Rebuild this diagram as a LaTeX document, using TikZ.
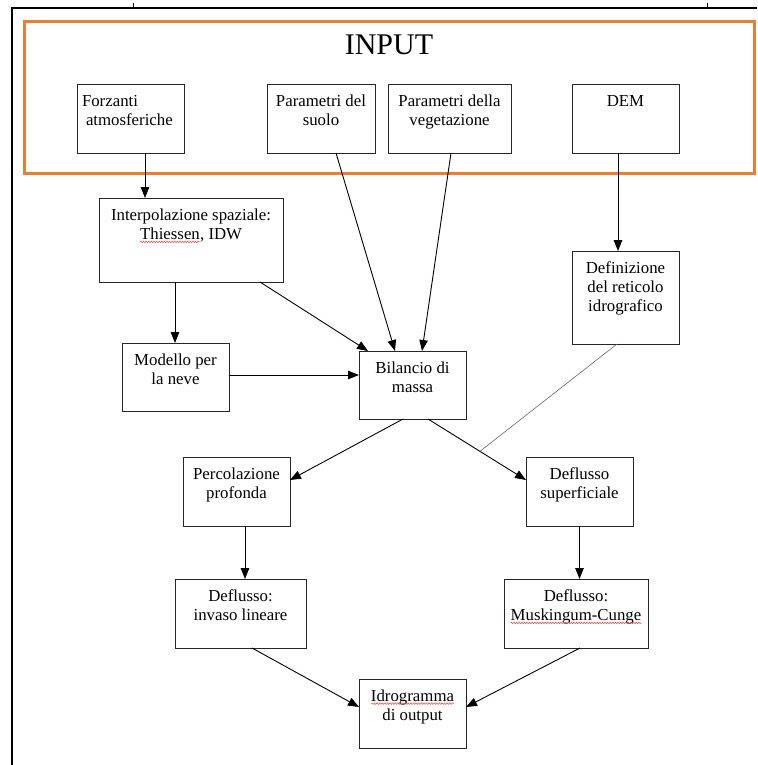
\documentclass[tikz,border=0pt]{standalone}
\usepackage{fontspec}
\setmainfont{Liberation Serif}
\usetikzlibrary{arrows.meta,calc,decorations.pathmorphing}
\definecolor{inorange}{RGB}{237,125,49}
\newcommand\bt[3]{\parbox[c][#2pt][t]{#1pt}{\centering\rule{0pt}{22pt}#3}}
\newcommand\squig[1]{\tikz[baseline=(sqw.base)]{\node[anchor=base,draw=none,fill=none,inner sep=0pt,outer sep=0pt,minimum width=0pt,minimum height=0pt](sqw){#1};\draw[red!75,line width=0.5pt,decorate,decoration={snake,amplitude=0.8pt,segment length=2.6pt}]([yshift=-2.6pt]sqw.base west)--([yshift=-2.6pt]sqw.base east);}}
\begin{document}
\begin{tikzpicture}[x=1pt,y=-1pt,
  box/.style={draw=black!85,line width=0.8pt,inner sep=0pt,outer sep=0pt,anchor=north west,font=\fontsize{16.8}{19.3}\selectfont},
  arr/.style={line width=0.9pt,-{Triangle[length=11pt,width=8.5pt]}}]
\useasboundingbox (0,0) rectangle (757,765);
\fill[white] (0,0) rectangle (757,765);
% outer frame
\draw[line width=2.8pt] (12,765) -- (12,8) -- (757,8);
\draw[line width=0.8pt] (133,3) -- (133,8);
\draw[line width=0.8pt] (707,3) -- (707,8);
% input frame
\draw[inorange,line width=3pt] (24,22) rectangle (754,173);
\node[anchor=base,inner sep=0pt,font=\fontsize{30}{36}\selectfont] (inputlbl) at (389,55) {INPUT};
% boxes
\node[box] (forz) at (77,84) {\parbox[c][69pt][t]{107pt}{\raggedright\rule{0pt}{22pt}\hspace*{5pt}Forzanti\\\hspace*{9pt}atmosferiche}};
\node[box] (suolo) at (267,84) {\bt{108}{69}{Parametri del\\suolo}};
\node[box] (veg) at (388,84) {\bt{123}{69}{Parametri della\\vegetazione}};
\node[box] (dem) at (572,84) {\bt{107}{69}{DEM}};
\node[box] (interp) at (99,198) {\bt{184}{84}{Interpolazione spaziale:\\\squig{Thiessen}, IDW}};
\node[box] (neve) at (122,343) {\bt{107}{68}{Modello per\\la neve}};
\node[box] (bil) at (359,351) {\bt{107}{68}{Bilancio di\\massa}};
\node[box] (def) at (572,251) {\bt{107}{93}{Definizione\\del reticolo\\idrografico}};
\node[box] (perc) at (183,457) {\bt{107}{69}{Percolazione\\profonda}};
\node[box] (sup) at (526,457) {\bt{107}{69}{Deflusso\\superficiale}};
\node[box] (inv) at (175,579) {\bt{131}{69}{Deflusso:\\invaso lineare}};
\node[box] (musk) at (504,579) {\bt{144}{69}{Deflusso:\\\squig{Muskingum-Cunge}}};
\node[box] (idro) at (359,679) {\bt{107}{69}{\squig{Idrogramma}\\di output}};
% connectors
\coordinate (f1) at ($(forz.south)+(14.5,0)$);
\draw[arr] (f1) -- (f1 |- interp.north);
\draw[arr] ($(suolo.south)+(15,0)$) -- ($(bil.north)+(-17.5,0)$);
\draw[arr] ($(veg.south)+(1.5,0)$) -- ($(bil.north)+(9.5,0)$);
\draw[arr] ($(interp.south)+(69,0)$) -- ($(bil.north west)+(9,0)$);
\coordinate (d1) at ($(dem.south)+(-7.5,0)$);
\draw[arr] (d1) -- (d1 |- def.north);
\coordinate (i1) at ($(interp.south)+(-16,0)$);
\draw[arr] (i1) -- (i1 |- neve.north);
\coordinate (n1) at ($(neve.east)+(0,-2)$);
\draw[arr] (n1) -- (n1 -| bil.west);
\coordinate (b1) at ($(bil.south)+(-9.5,0)$);
\draw[arr] (b1) -- ($(perc.east)+(0,-11.5)$);
\coordinate (b2) at ($(bil.south)+(15.5,0)$);
\coordinate (s1) at ($(sup.west)+(0,-11.5)$);
\draw[arr] (b2) -- (s1);
\coordinate (jn) at ($(b2)!0.53!(s1)$);
\draw[black!60,line width=0.6pt] ($(def.south)+(-8.5,0)$) -- (jn);
\coordinate (p1) at ($(perc.south)+(8.5,0)$);
\draw[arr] (p1) -- (p1 |- inv.north);
\draw[arr] (sup.south) -- (sup.south |- musk.north);
\draw[arr] ($(inv.south)+(11.5,0)$) -- ($(idro.west)+(0,-6.5)$);
\draw[arr] ($(musk.south)+(4,0)$) -- ($(idro.east)+(0,-6.5)$);
\end{tikzpicture}
\end{document}
